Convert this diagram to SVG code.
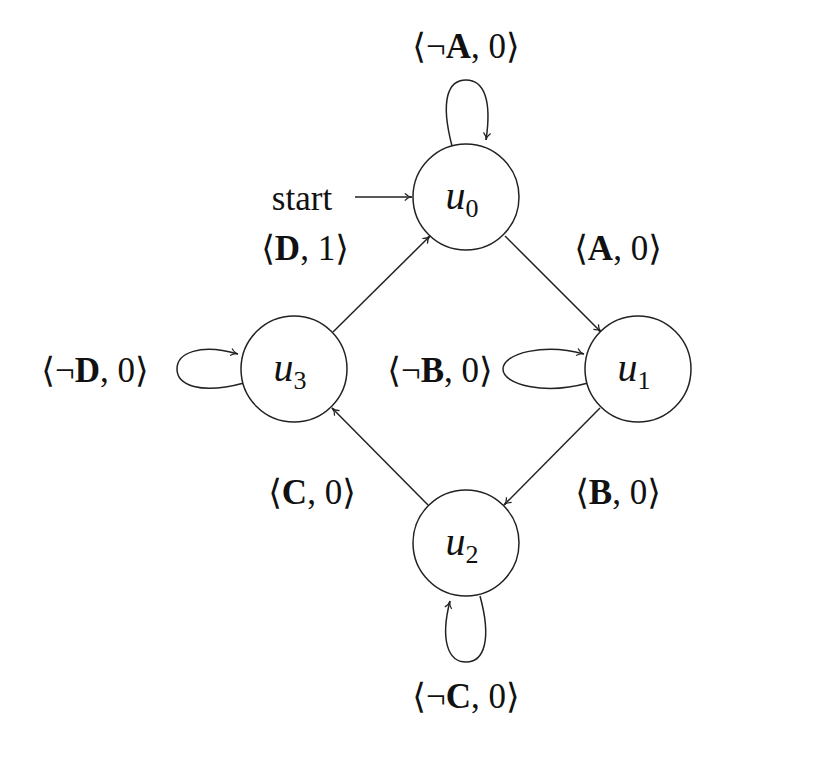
<svg xmlns="http://www.w3.org/2000/svg" width="829" height="782" viewBox="0 0 829 782">
<style>
.n{fill:#fff;stroke:#222;stroke-width:1.5}
.e{fill:none;stroke:#222;stroke-width:1.5;marker-end:url(#a)}
text{font-family:"Liberation Serif","DejaVu Serif",serif;font-size:35px;fill:#111;text-anchor:middle}
.u{font-style:italic;font-size:40px}
.s{font-size:26px;font-style:normal}
.b{font-weight:bold}
</style>
<defs><marker id="a" viewBox="0 0 10 10" refX="9" refY="5" markerWidth="9" markerHeight="9" orient="auto" markerUnits="userSpaceOnUse"><path d="M1,1 Q5,5 9,5 Q5,5 1,9" fill="none" stroke="#222" stroke-width="1.3"/></marker></defs>
<g id="connectors">
<path class="e" d="M452,146 C440,100 448,80 466,80 C484,80 492,100 486,140"/>
<path class="e" d="M244,383 C200,395 177,385 177,369 C177,353 200,343 238,354"/>
<path class="e" d="M588,383 C545,395 503,385 503,369 C503,353 545,343 584,354"/>
<path class="e" d="M480,596 C492,640 484,662 466,662 C448,662 440,640 450,601"/>
<path class="e" d="M333,332 L430,236"/>
<path class="e" d="M505,236 L601,332"/>
<path class="e" d="M600,408 L504,505"/>
<path class="e" d="M428,505 L332,408"/>
<path class="e" d="M355,197 L412,197"/>
</g>
<g id="u0"><circle class="n" cx="466" cy="197" r="53"/><text class="u" x="462" y="209">u<tspan class="s" dy="8">0</tspan></text></g>
<g id="u1"><circle class="n" cx="638" cy="369" r="53"/><text class="u" x="634" y="381">u<tspan class="s" dy="8">1</tspan></text></g>
<g id="u2"><circle class="n" cx="466" cy="543" r="53"/><text class="u" x="462" y="555">u<tspan class="s" dy="8">2</tspan></text></g>
<g id="u3"><circle class="n" cx="294" cy="369" r="53"/><text class="u" x="290" y="381">u<tspan class="s" dy="8">3</tspan></text></g>
<g id="labels">
<text x="302" y="210">start</text>
<text x="466" y="58">⟨¬<tspan class="b">A</tspan>, 0⟩</text>
<text x="305" y="260">⟨<tspan class="b">D</tspan>, 1⟩</text>
<text x="618" y="260">⟨<tspan class="b">A</tspan>, 0⟩</text>
<text x="95" y="382">⟨¬<tspan class="b">D</tspan>, 0⟩</text>
<text x="440" y="382">⟨¬<tspan class="b">B</tspan>, 0⟩</text>
<text x="312" y="504">⟨<tspan class="b">C</tspan>, 0⟩</text>
<text x="618" y="504">⟨<tspan class="b">B</tspan>, 0⟩</text>
<text x="466" y="708">⟨¬<tspan class="b">C</tspan>, 0⟩</text>
</g>
</svg>
